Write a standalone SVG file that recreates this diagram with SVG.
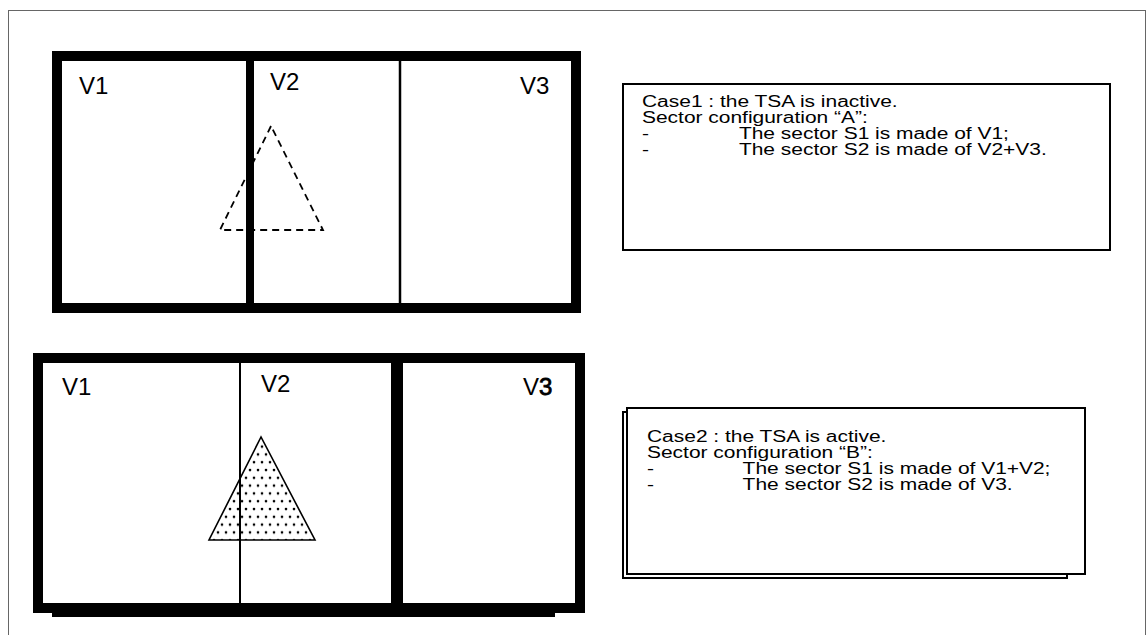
<svg xmlns="http://www.w3.org/2000/svg" width="1148" height="635" viewBox="0 0 1148 635">
<style>
.lbl{font-family:"Liberation Sans",Arial,sans-serif;font-size:24px;fill:#000}
.txt{font-family:"Liberation Sans",Arial,sans-serif;font-size:16px;fill:#000}
.frame{fill:none;stroke:#000;stroke-width:10}
.box{fill:#fff;stroke:#000;stroke-width:2}
</style>
<defs>
<pattern id="dots" width="8" height="15.6" patternUnits="userSpaceOnUse">
<circle cx="2" cy="2" r="1.3" fill="#000"/>
<circle cx="6" cy="9.8" r="1.3" fill="#000"/>
</pattern>
</defs>
<rect x="0" y="0" width="1148" height="635" fill="#fff"/>
<rect x="8.5" y="10.5" width="1137" height="640" fill="none" stroke="#666" stroke-width="1"/>

<g id="case1-map">
<polygon points="271,126 220,230 323,230" fill="none" stroke="#000" stroke-width="1.8" stroke-dasharray="7 5"/>
<rect class="frame" x="57" y="56" width="519" height="252"/>
<line x1="250" y1="60" x2="250" y2="304" stroke="#000" stroke-width="8"/>
<line x1="400" y1="60" x2="400" y2="304" stroke="#000" stroke-width="2.5"/>
<text class="lbl" x="79" y="94">V1</text>
<text class="lbl" x="270" y="90">V2</text>
<text class="lbl" x="520" y="94">V3</text>
</g>

<g id="case2-map">
<rect x="52" y="607" width="503" height="10" fill="#000"/>
<rect class="frame" x="38" y="358" width="542" height="250"/>
<polygon points="261,437 209,540 315,540" fill="url(#dots)" stroke="#000" stroke-width="1.6"/>
<line x1="240" y1="362" x2="240" y2="605" stroke="#000" stroke-width="2"/>
<line x1="397" y1="362" x2="397" y2="605" stroke="#000" stroke-width="12"/>
<text class="lbl" x="62" y="395">V1</text>
<text class="lbl" x="261" y="392">V2</text>
<text class="lbl" x="523" y="395">V<tspan stroke="#000" stroke-width="0.8">3</tspan></text>
</g>

<g id="case1-box">
<rect class="box" x="623" y="84" width="487" height="166"/>
<g transform="translate(642,0) scale(1.31,1)">
<text class="txt" x="0" y="107">Case1 : the TSA is inactive.</text>
<text class="txt" x="0" y="123">Sector configuration “A”:</text>
<text class="txt" x="0" y="139">-</text>
<text class="txt" x="74" y="139">The sector S1 is made of V1;</text>
<text class="txt" x="0" y="155">-</text>
<text class="txt" x="74" y="155">The sector S2 is made of V2+V3.</text>
</g>
</g>

<g id="case2-box">
<rect class="box" x="623" y="412" width="444" height="166"/>
<rect class="box" x="627" y="408" width="458" height="166"/>
<g transform="translate(647,0) scale(1.31,1)">
<text class="txt" x="0" y="442">Case2 : the TSA is active.</text>
<text class="txt" x="0" y="458">Sector configuration “B”:</text>
<text class="txt" x="0" y="474">-</text>
<text class="txt" x="73" y="474">The sector S1 is made of V1+V2;</text>
<text class="txt" x="0" y="490">-</text>
<text class="txt" x="73" y="490">The sector S2 is made of V3.</text>
</g>
</g>
</svg>
